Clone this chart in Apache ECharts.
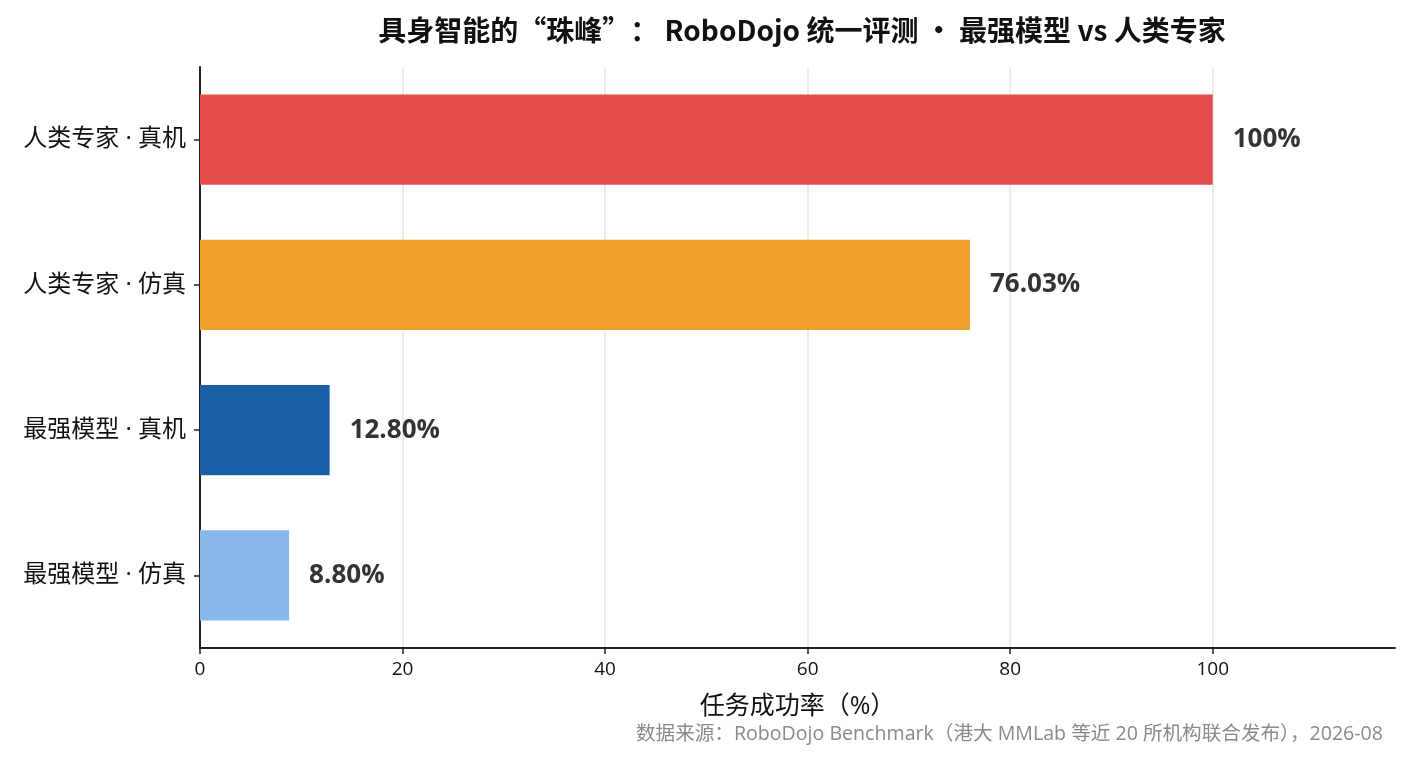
<!DOCTYPE html>
<html>
<head>
<meta charset="utf-8">
<style>
  html, body { margin: 0; padding: 0; background: #fff; }
  #container { width: 1410px; height: 761px; }
</style>
<script src="https://cdn.jsdelivr.net/npm/echarts@6/dist/echarts.min.js"></script>
</head>
<body>
<div id="container"></div>
<script>
var categories = ['最强模型 · 仿真', '最强模型 · 真机', '人类专家 · 仿真', '人类专家 · 真机'];
var values = [8.80, 12.80, 76.03, 100];
var valueLabels = ['8.80%', '12.80%', '76.03%', '100%'];
var barColors = ['#89b8ea', '#1a5fa6', '#f0a02a', '#e44c4c'];

// latin glyphs from Open Sans, CJK falls back to Noto Sans CJK
var font = '"Open Sans", "Noto Sans CJK SC", sans-serif';
// title keeps full-width punctuation
var cjkFont = '"Noto Sans CJK SC", "Open Sans", sans-serif';

var dom = document.getElementById('container');
var myChart = echarts.init(dom);

var barData = values.map(function (v, i) {
    return { value: v, itemStyle: { color: barColors[i] } };
});

var option = {
    animation: false,
    textStyle: { fontFamily: font },
    title: {
        text: '具身智能的“珠峰”： RoboDojo 统一评测 • 最强模型 vs 人类专家',
        left: 797,
        textAlign: 'center',
        top: 11,
        textStyle: { fontSize: 28, fontWeight: 'bold', color: '#111', fontFamily: cjkFont }
    },
    graphic: [{
        type: 'text',
        right: 27,
        top: 725,
        style: {
            text: '数据来源：RoboDojo Benchmark（港大 MMLab 等近 20 所机构联合发布），2026-08',
            fill: '#8a8a86',
            font: '19.6px ' + font
        }
    }],
    grid: { left: 200, right: 15, top: 67, bottom: 113 },
    xAxis: {
        type: 'value',
        min: 0,
        max: 118,
        interval: 20,
        name: '任务成功率（%）',
        nameLocation: 'middle',
        nameGap: 46,
        nameTextStyle: { fontSize: 25, color: '#111' },
        axisLine: { show: true, lineStyle: { color: '#222', width: 2 } },
        axisTick: { show: true, length: 6, lineStyle: { color: '#222', width: 1.5 } },
        axisLabel: { fontSize: 19, color: '#111', margin: 12, showMaxLabel: false },
        splitLine: {
            show: true,
            lineStyle: { color: ['#e6e6e6', '#e6e6e6', '#e6e6e6', '#e6e6e6', '#e6e6e6', '#e6e6e6', 'rgba(0,0,0,0)'], width: 1.5 }
        }
    },
    yAxis: {
        type: 'category',
        data: categories,
        axisLine: { show: true, lineStyle: { color: '#222', width: 2 } },
        axisTick: { show: true, alignWithLabel: true, length: 6, lineStyle: { color: '#222', width: 1.5 } },
        axisLabel: { fontSize: 24, color: '#111', margin: 14 }
    },
    series: [{
        type: 'bar',
        data: barData,
        barWidth: '62%',
        label: {
            show: true,
            position: 'right',
            distance: 20,
            fontSize: 26,
            fontWeight: 'bold',
            color: '#333',
            formatter: function (p) { return valueLabels[p.dataIndex]; }
        }
    }]
};

myChart.setOption(option, true);
window.addEventListener('resize', function () {
    myChart.resize();
});
</script>
</body>
</html>
